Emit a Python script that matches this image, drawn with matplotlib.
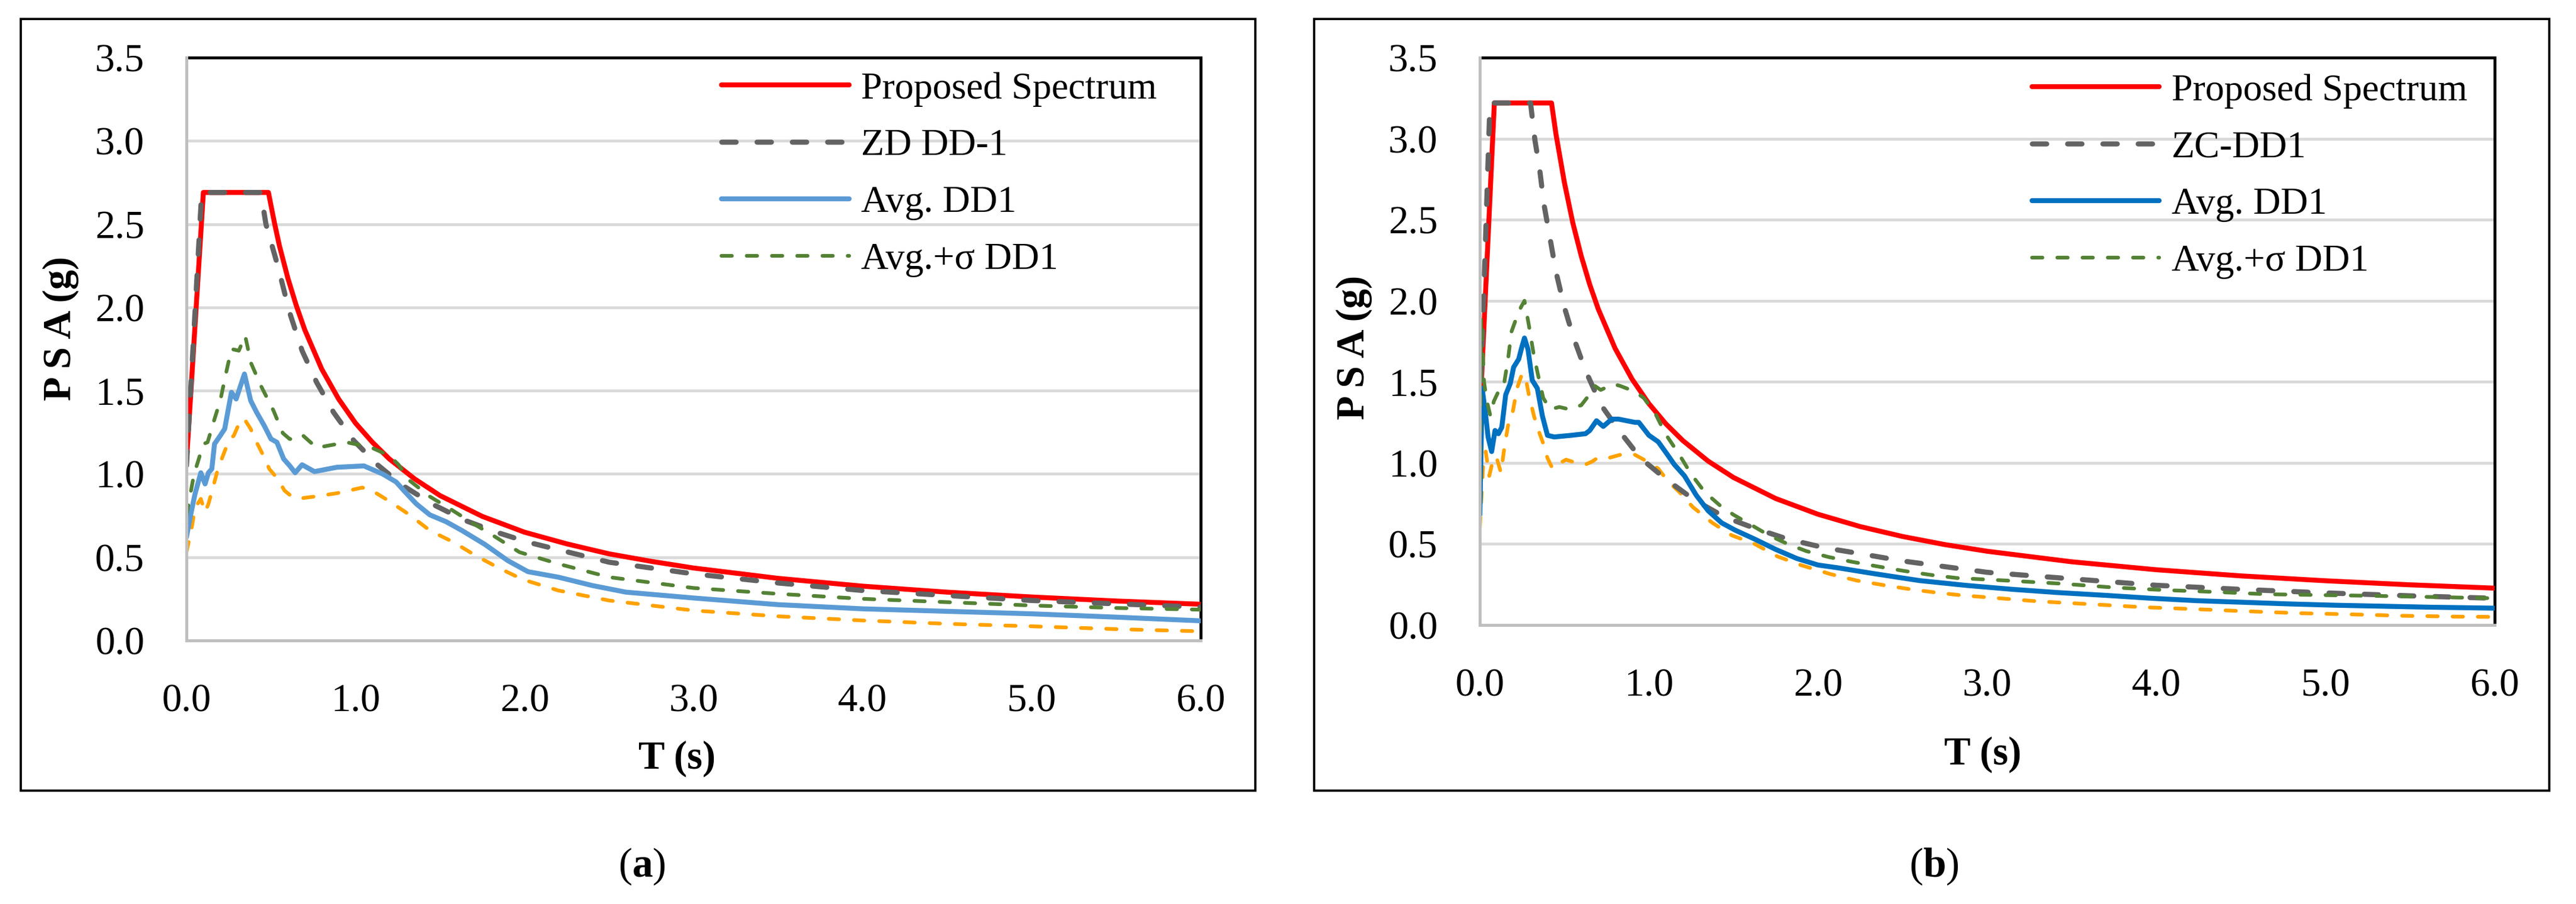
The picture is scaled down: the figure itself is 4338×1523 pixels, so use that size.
import matplotlib
matplotlib.use("Agg")
import matplotlib.pyplot as plt
from matplotlib.patches import Rectangle

plt.rcParams['font.family'] = ['Liberation Serif', 'DejaVu Serif']
plt.rcParams['mathtext.fontset'] = 'custom'
plt.rcParams['mathtext.rm'] = 'Liberation Serif'
plt.rcParams['mathtext.bf'] = 'Liberation Serif:bold'

# ---------------- data: panel (a) ----------------
Ta_prop = [0, 0.10, 0.485, 0.52, 0.55, 0.6, 0.65, 0.7, 0.8, 0.9, 1.0, 1.1, 1.2, 1.35, 1.5, 1.75,
           2.0, 2.25, 2.5, 2.75, 3.0, 3.5, 4.0, 4.5, 5.0, 5.5, 6.0]
Va_prop = [1.07, 2.69, 2.69, 2.51, 2.37, 2.175, 2.01, 1.865, 1.63, 1.45, 1.305, 1.19, 1.09, 0.97, 0.87, 0.745,
           0.65, 0.58, 0.52, 0.475, 0.435, 0.373, 0.326, 0.29, 0.261, 0.237, 0.2175]

Ta_zd = [0, 0.09, 0.44, 0.47, 0.54, 0.61, 0.684, 0.77, 0.87, 0.99, 1.13, 1.28, 1.46, 1.65, 1.85, 2.02,
         2.5, 3.0, 3.5, 4.0, 4.5, 5.0, 5.5, 6.0]
Va_zd = [1.05, 2.69, 2.69, 2.5, 2.25, 1.97, 1.74, 1.55, 1.37, 1.20, 1.055, 0.93, 0.816, 0.72, 0.645, 0.59,
         0.47, 0.40, 0.345, 0.30, 0.27, 0.24, 0.22, 0.20]

Ta_avg = [0, 0.025, 0.05, 0.085, 0.11, 0.13, 0.15, 0.166, 0.2, 0.226, 0.266, 0.294, 0.343, 0.38, 0.415,
          0.46, 0.50, 0.535, 0.575, 0.61, 0.643, 0.684, 0.757, 0.89, 1.05, 1.16, 1.24, 1.295, 1.36, 1.44,
          1.536, 1.63, 1.765, 1.90, 2.02, 2.2, 2.4, 2.6, 3.0, 3.5, 4.0, 4.5, 5.0, 5.5, 6.0]
Va_avg = [0.62, 0.755, 0.877, 1.007, 0.94, 1.007, 1.03, 1.18, 1.23, 1.27, 1.49, 1.45, 1.60, 1.44, 1.37,
          1.29, 1.21, 1.19, 1.09, 1.05, 1.007, 1.055, 1.014, 1.04, 1.048, 1.0, 0.952, 0.89, 0.82, 0.754,
          0.713, 0.66, 0.577, 0.48, 0.413, 0.38, 0.33, 0.29, 0.255, 0.215, 0.19, 0.175, 0.16, 0.14, 0.118]

Ta_sig = [0, 0.045, 0.07, 0.1, 0.125, 0.166, 0.2, 0.233, 0.266, 0.31, 0.347, 0.36, 0.38, 0.44, 0.515,
          0.57, 0.61, 0.66, 0.69, 0.77, 0.84, 0.946, 1.09, 1.2, 1.255, 1.32, 1.44, 1.56, 1.70, 1.83, 1.97,
          2.2, 2.5, 3.0, 3.5, 4.0, 4.5, 5.0, 5.5, 6.0]
Va_sig = [0.75, 1.0, 1.08, 1.18, 1.19, 1.33, 1.44, 1.60, 1.75, 1.74, 1.83, 1.77, 1.67, 1.53, 1.38,
          1.245, 1.21, 1.205, 1.23, 1.157, 1.17, 1.19, 1.16, 1.11, 1.055, 0.96, 0.864, 0.79, 0.70, 0.62, 0.53,
          0.46, 0.38, 0.315, 0.28, 0.25, 0.23, 0.21, 0.195, 0.185]

Ta_ora = [0, 0.03, 0.05, 0.085, 0.11, 0.13, 0.16, 0.186, 0.22, 0.25, 0.28, 0.31, 0.34, 0.38, 0.41,
          0.455, 0.49, 0.54, 0.58, 0.616, 0.65, 0.757, 0.89, 1.04, 1.09, 1.2, 1.32, 1.44, 1.58, 1.71, 1.85,
          1.99, 2.2, 2.5, 3.0, 3.5, 4.0, 4.5, 5.0, 5.5, 6.0]
Va_ora = [0.53, 0.67, 0.795, 0.85, 0.77, 0.82, 0.93, 1.03, 1.12, 1.20, 1.23, 1.30, 1.334, 1.27, 1.20,
          1.11, 1.03, 0.97, 0.90, 0.87, 0.85, 0.864, 0.884, 0.918, 0.905, 0.836, 0.754, 0.66, 0.59, 0.51, 0.434,
          0.366, 0.30, 0.24, 0.18, 0.145, 0.12, 0.10, 0.085, 0.068, 0.055]

# ---------------- data: panel (b) ----------------
Tb_prop = [0, 0.086, 0.424, 0.45, 0.5, 0.55, 0.6, 0.65, 0.7, 0.8, 0.9, 1.0, 1.1, 1.2, 1.35, 1.5, 1.75,
           2.0, 2.25, 2.5, 2.75, 3.0, 3.5, 4.0, 4.5, 5.0, 5.5, 6.0]
Vb_prop = [1.29, 3.22, 3.22, 3.03, 2.73, 2.48, 2.275, 2.10, 1.95, 1.706, 1.517, 1.365, 1.241, 1.138, 1.011,
           0.91, 0.78, 0.683, 0.607, 0.546, 0.496, 0.455, 0.39, 0.341, 0.303, 0.273, 0.248, 0.2275]

Tb_zc = [0, 0.06, 0.30, 0.326, 0.354, 0.38, 0.417, 0.45, 0.5, 0.555, 0.625, 0.715, 0.83, 0.95, 1.1, 1.27,
         1.45, 1.63, 1.82, 2.04, 2.25, 2.5, 2.75, 3.0, 3.5, 4.0, 4.5, 5.0, 5.5, 6.0]
Vb_zc = [1.29, 3.22, 3.22, 2.99, 2.81, 2.59, 2.375, 2.18, 1.96, 1.77, 1.57, 1.36, 1.19, 1.03, 0.90, 0.77,
         0.665, 0.595, 0.53, 0.476, 0.44, 0.395, 0.36, 0.325, 0.285, 0.245, 0.22, 0.198, 0.18, 0.165]

Tb_avg = [0, 0.014, 0.035, 0.049, 0.07, 0.09, 0.11, 0.13, 0.153, 0.18, 0.2, 0.23, 0.25, 0.264, 0.285, 0.31,
          0.34, 0.37, 0.40, 0.44, 0.54, 0.625, 0.65, 0.69, 0.73, 0.78, 0.82, 0.917, 0.94, 1.0, 1.055, 1.11,
          1.15, 1.21, 1.28, 1.35, 1.43, 1.51, 1.625, 1.75, 1.875, 2.0, 2.11, 2.33, 2.6, 2.88, 3.15, 3.42,
          3.7, 3.97, 4.24, 4.52, 4.79, 5.06, 5.34, 5.61, 6.0]
Vb_avg = [0.68, 1.46, 1.29, 1.16, 1.07, 1.20, 1.18, 1.22, 1.42, 1.49, 1.59, 1.64, 1.72, 1.77, 1.70, 1.51,
          1.46, 1.29, 1.17, 1.16, 1.17, 1.18, 1.20, 1.26, 1.225, 1.27, 1.27, 1.25, 1.25, 1.17, 1.13, 1.05,
          0.99, 0.92, 0.80, 0.705, 0.63, 0.585, 0.53, 0.466, 0.41, 0.37, 0.354, 0.317, 0.274, 0.244, 0.22, 0.20,
          0.183, 0.165, 0.15, 0.14, 0.13, 0.122, 0.116, 0.11, 0.104]

Tb_sig = [0, 0.008, 0.025, 0.042, 0.0625, 0.083, 0.11, 0.139, 0.167, 0.1875, 0.215, 0.243, 0.264, 0.29,
          0.32, 0.347, 0.375, 0.417, 0.47, 0.53, 0.6, 0.64, 0.68, 0.715, 0.79, 0.83, 0.917, 0.97, 1.04,
          1.097, 1.18, 1.25, 1.33, 1.417, 1.5, 1.6, 1.71, 1.82, 1.93, 2.06, 2.2, 2.36, 2.5, 2.66, 2.82,
          3.12, 3.44, 3.74, 4.04, 4.35, 4.65, 4.97, 5.28, 5.58, 6.0]
Vb_sig = [0.73, 1.9, 1.5, 1.38, 1.29, 1.38, 1.44, 1.46, 1.64, 1.81, 1.89, 1.96, 2.0, 1.85,
          1.66, 1.53, 1.40, 1.33, 1.345, 1.33, 1.356, 1.41, 1.475, 1.45, 1.486, 1.475, 1.44, 1.40, 1.30,
          1.18, 1.05, 0.93, 0.82, 0.74, 0.68, 0.62, 0.553, 0.50, 0.456, 0.42, 0.39, 0.36, 0.335, 0.31, 0.29,
          0.274, 0.255, 0.232, 0.216, 0.204, 0.19, 0.185, 0.18, 0.174, 0.165]

Tb_ora = [0, 0.02, 0.035, 0.056, 0.076, 0.097, 0.125, 0.146, 0.167, 0.194, 0.22, 0.25, 0.27, 0.29, 0.32,
          0.347, 0.375, 0.40, 0.43, 0.458, 0.51, 0.57, 0.625, 0.667, 0.694, 0.76, 0.83, 0.917, 0.97, 1.055,
          1.11, 1.18, 1.26, 1.375, 1.49, 1.625, 1.76, 1.9, 2.07, 2.23, 2.4, 2.55, 2.7, 2.85, 3.0, 3.3,
          3.62, 3.92, 4.23, 4.53, 4.84, 5.14, 5.46, 5.76, 6.0]
Vb_ora = [0.6, 0.99, 1.07, 0.92, 1.01, 1.04, 0.94, 1.10, 1.23, 1.31, 1.46, 1.55, 1.53, 1.42, 1.29,
          1.20, 1.12, 1.03, 0.965, 0.99, 1.02, 1.0, 0.99, 1.01, 1.03, 1.03, 1.05, 1.05, 1.02, 0.965,
          0.89, 0.82, 0.727, 0.63, 0.553, 0.50, 0.423, 0.369, 0.315, 0.274, 0.244, 0.22, 0.20, 0.183, 0.171, 0.146,
          0.128, 0.11, 0.098, 0.085, 0.073, 0.066, 0.057, 0.052, 0.05]

labels_a = ["Proposed Spectrum", "ZD DD-1", "Avg. DD1", "Avg.+\u03c3 DD1"]
labels_b = ["Proposed Spectrum", "ZC-DD1", "Avg. DD1", "Avg.+\u03c3 DD1"]
xticks = [0, 1, 2, 3, 4, 5, 6]
xticklabels = ["0.0", "1.0", "2.0", "3.0", "4.0", "5.0", "6.0"]
yticks = [0, 0.5, 1.0, 1.5, 2.0, 2.5, 3.0, 3.5]
yticklabels = ["0.0", "0.5", "1.0", "1.5", "2.0", "2.5", "3.0", "3.5"]

# ---------------- figure ----------------
W, H = 4338, 1523
fig = plt.figure(figsize=(W / 100, H / 100), dpi=100)

RED = '#FF0000'
GRAY = '#636363'
GREEN = '#548235'
ORANGE = '#FFA200'


def px(x0, y0, x1, y1):
    return [x0 / W, 1 - y1 / H, (x1 - x0) / W, (y1 - y0) / H]


def panel(rect, blue, data, labels, leg_anchor):
    ax = fig.add_axes(rect)
    (Tp, Vp), (Tz, Vz), (Ta, Va), (Ts, Vs), (To, Vo) = data
    ax.plot(To, Vo, color=ORANGE, lw=4.5, dashes=(2.8, 4.0), dash_capstyle='round', zorder=3)
    l1, = ax.plot(Tp, Vp, color=RED, lw=6.0, solid_capstyle='round', zorder=4)
    l2, = ax.plot(Tz, Vz, color=GRAY, lw=6.2, dashes=(2.8, 4.1), dash_capstyle='round', zorder=5)
    l3, = ax.plot(Ta, Va, color=blue, lw=6.0, solid_capstyle='round', zorder=6)
    l4, = ax.plot(Ts, Vs, color=GREEN, lw=4.5, dashes=(2.8, 4.0), dash_capstyle='round', zorder=7)

    ax.set_xlim(0, 6)
    ax.set_ylim(0, 3.5)
    ax.set_xticks(xticks)
    ax.set_xticklabels(xticklabels)
    ax.set_yticks(yticks)
    ax.set_yticklabels(yticklabels)
    ax.tick_params(axis='both', length=0, labelsize=48)
    ax.tick_params(axis='x', pad=52)
    ax.tick_params(axis='y', pad=51)
    ax.yaxis.grid(True, color='#D9D9D9', lw=3.4)
    ax.xaxis.grid(False)
    ax.set_axisbelow(True)
    for s in ('top', 'right'):
        ax.spines[s].set_color('black')
        ax.spines[s].set_linewidth(3.6)
    for s in ('left', 'bottom'):
        ax.spines[s].set_color('#BFBFBF')
        ax.spines[s].set_linewidth(3.6)
        ax.spines[s].set_zorder(8)

    ax.legend([l1, l2, l3, l4], labels, loc='upper left', bbox_to_anchor=leg_anchor,
              frameon=False, fontsize=46, handlelength=3.36, handletextpad=0.32,
              labelspacing=0.58, borderpad=0, borderaxespad=0)
    return ax


axa = panel(px(314, 97, 2022, 1079), '#5B9BD5',
            [(Ta_prop, Va_prop), (Ta_zd, Va_zd), (Ta_avg, Va_avg), (Ta_sig, Va_sig), (Ta_ora, Va_ora)],
            labels_a, (0.5275, 0.9756))
axb = panel(px(2492, 97, 4201, 1053), '#0070C0',
            [(Tb_prop, Vb_prop), (Tb_zc, Vb_zc), (Tb_avg, Vb_avg), (Tb_sig, Vb_sig), (Tb_ora, Vb_ora)],
            labels_b, (0.544, 0.9718))

# axis titles
psa = "P\u2009S\u2009A (g)"
fig.text(1140 / W, 1 - 1278 / H, "T (s)", fontsize=48, fontweight='bold', ha='center', va='center')
fig.text(3339 / W, 1 - 1271 / H, "T (s)", fontsize=48, fontweight='bold', ha='center', va='center')
fig.text(102 / W, 1 - 553 / H, psa, fontsize=48, fontweight='bold', rotation=90,
         ha='center', va='center')
fig.text(2280 / W, 1 - 585 / H, psa, fontsize=48, fontweight='bold', rotation=90,
         ha='center', va='center')

# outer frames
for (x0, y0, x1, y1) in [(35, 32, 2114, 1332), (2213, 32, 4293, 1332)]:
    fig.add_artist(Rectangle((x0 / W, 1 - y1 / H), (x1 - x0) / W, (y1 - y0) / H,
                             transform=fig.transFigure, fill=False, edgecolor='black', lw=2.7))

# captions
fig.text(1081 / W, 1 - 1460 / H, r"($\mathbf{a}$)", fontsize=50, ha='center', va='center')
fig.text(3257 / W, 1 - 1460 / H, r"($\mathbf{b}$)", fontsize=50, ha='center', va='center')

fig.savefig("out.png", dpi=100, facecolor='white')
